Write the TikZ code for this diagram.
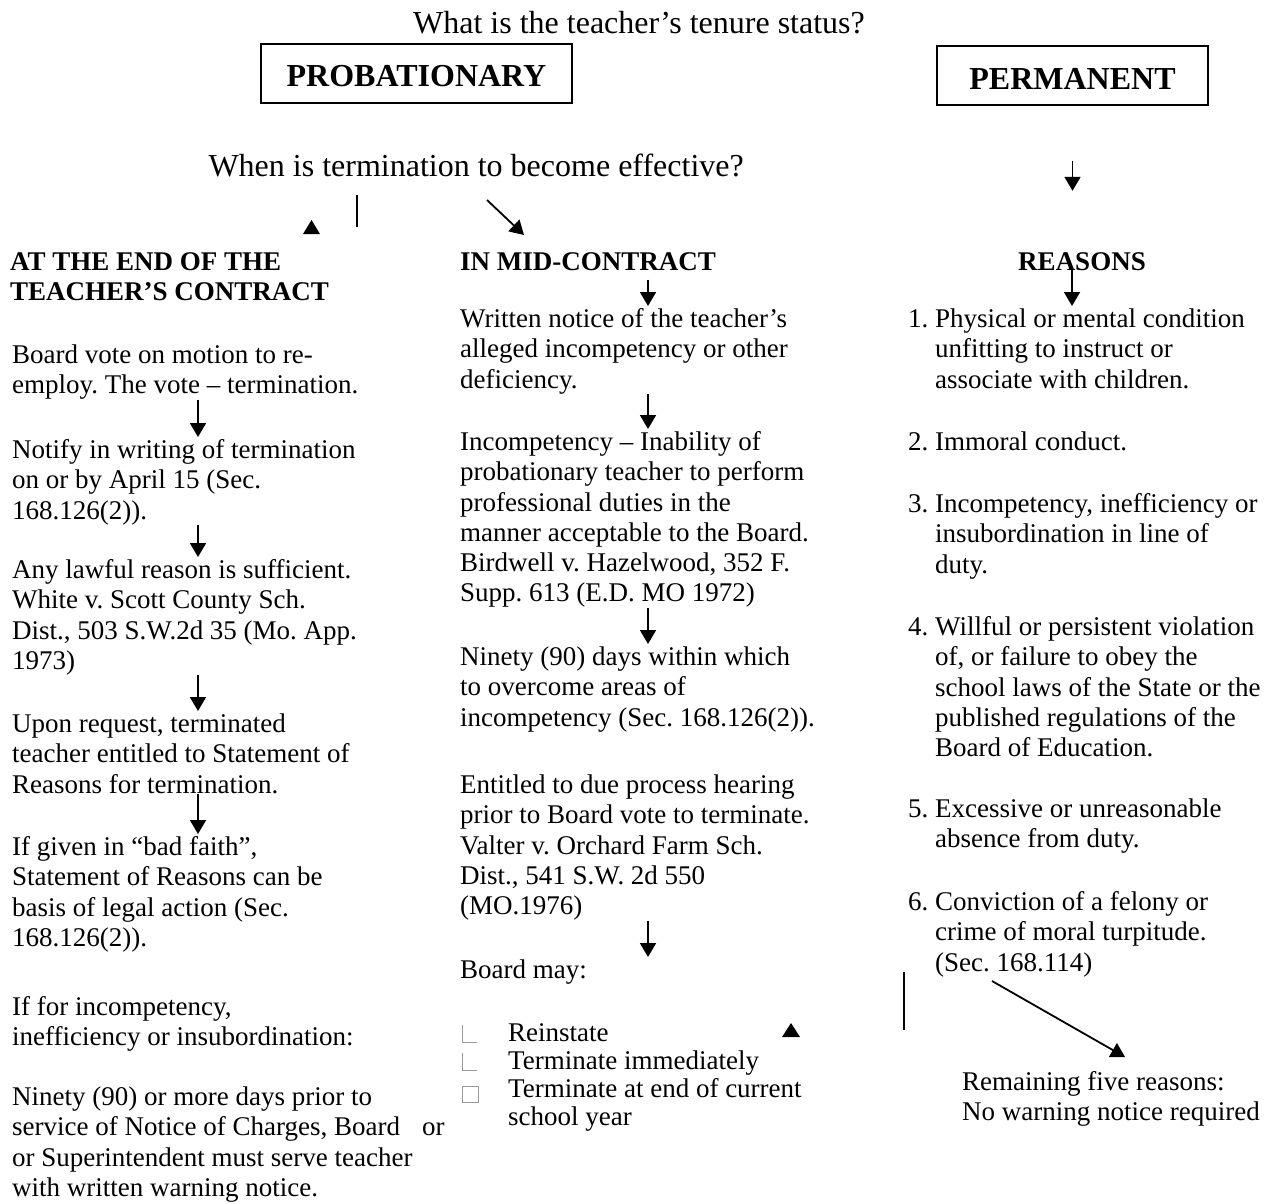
\documentclass[tikz,border=0pt]{standalone}
\usepackage{fontspec}
\setmainfont{Liberation Serif}
\usetikzlibrary{arrows.meta, positioning}

\newcommand{\bodysize}{\fontsize{27}{30.3}\selectfont}
\newcommand{\headsize}{\fontsize{32}{36}\selectfont}
\newcommand{\boxsize}{\fontsize{32}{38}\selectfont\bfseries}

\begin{document}
\frenchspacing
\begin{tikzpicture}[x=1pt, y=-1pt,
    %defining some styles
    txt/.style={anchor=north west, inner sep=0pt, align=left, font=\bodysize},
    headtxt/.style={txt, font=\bodysize\bfseries},
    status/.style={draw, line width=1.6pt, minimum width=#1, minimum height=59pt, inner sep=0pt, text height=27pt, font=\boxsize},
    arr/.style={line width=1.8pt, -{Triangle[length=14pt, width=16pt]}},
    stub/.style={line width=1.8pt},
    bul/.style={draw=black!40, line width=0.8pt},
    ]
    \useasboundingbox (0,0) rectangle (1265,1203);

    % top
    \node (tenure) at (639,33) [anchor=base, font=\headsize] {What is the teacher’s tenure status?};
    \node (prob) at (416.5,73.5) [status=311pt] {PROBATIONARY};
    \node (perm) at (1072.5,75.5) [status=271pt] {PERMANENT};
    \node (when) at (205,176) [anchor=base west, font=\headsize] {When is termination to become effective?};

    % end of contract
    \node (endhead) at (10,249) [headtxt] {\strut AT THE END OF THE\\TEACHER’S CONTRACT};
    \node (vote) at (12,342) [txt] {\strut Board vote on motion to re-\\employ. The vote – termination.};
    \node (notify) at (12,437) [txt] {\strut Notify in writing of termination\\on or by April 15 (Sec.\\168.126(2)).};
    \node (lawful) at (12,557) [txt] {\strut Any lawful reason is sufficient.\\White v. Scott County Sch.\\Dist., 503 S.W.2d 35 (Mo. App.\\1973)};
    \node (request) at (12,711) [txt] {\strut Upon request, terminated\\teacher entitled to Statement of\\Reasons for termination.};
    \node (faith) at (12,834) [txt] {\strut If given in “bad faith”,\\Statement of Reasons can be\\basis of legal action (Sec.\\168.126(2)).};
    \node (ifincomp) at (12,994) [txt] {\strut If for incompetency,\\inefficiency or insubordination:};
    \node (warning) at (12,1084) [txt] {\strut Ninety (90) or more days prior to\\\makebox[410pt][l]{service of Notice of Charges, Board}or\\or Superintendent must serve teacher\\with written warning notice.};

    % mid-contract
    \node (midhead) at (460,249) [headtxt] {\strut IN MID-CONTRACT};
    \node (written) at (460,306) [txt] {\strut Written notice of the teacher’s\\alleged incompetency or other\\deficiency.};
    \node (incomp) at (460,429) [txt] {\strut Incompetency – Inability of\\probationary teacher to perform\\professional duties in the\\manner acceptable to the Board.\\Birdwell v. Hazelwood, 352 F.\\Supp. 613 (E.D. MO 1972)};
    \node (ninety) at (460,644) [txt] {\strut Ninety (90) days within which\\to overcome areas of\\incompetency (Sec. 168.126(2)).};
    \node (entitled) at (460,772) [txt] {\strut Entitled to due process hearing\\prior to Board vote to terminate.\\Valter v. Orchard Farm Sch.\\Dist., 541 S.W. 2d 550\\(MO.1976)};
    \node (boardmay) at (460,957) [txt] {\strut Board may:};
    \node (opts) at (508,1022) [txt, font=\fontsize{27}{28}\selectfont] {\strut Reinstate\\Terminate immediately\\Terminate at end of current\\school year};

    % permanent
    \node (reasons) at (1082,270) [anchor=base, inner sep=0pt, font=\bodysize\bfseries] {REASONS};
    \node (r1) at (935,306) [txt] {\strut\llap{\makebox[27pt][l]{1.}}Physical or mental condition\\unfitting to instruct or\\associate with children.};
    \node (r2) at (935,429) [txt] {\strut\llap{\makebox[27pt][l]{2.}}Immoral conduct.};
    \node (r3) at (935,491) [txt] {\strut\llap{\makebox[27pt][l]{3.}}Incompetency, inefficiency or\\insubordination in line of\\duty.};
    \node (r4) at (935,614) [txt] {\strut\llap{\makebox[27pt][l]{4.}}Willful or persistent violation\\of, or failure to obey the\\school laws of the State or the\\published regulations of the\\Board of Education.};
    \node (r5) at (935,796) [txt] {\strut\llap{\makebox[27pt][l]{5.}}Excessive or unreasonable\\absence from duty.};
    \node (r6) at (935,889) [txt] {\strut\llap{\makebox[27pt][l]{6.}}Conviction of a felony or\\crime of moral turpitude.\\(Sec. 168.114)};
    \node (remain) at (962,1069) [txt] {\strut Remaining five reasons:\\No warning notice required};

    % arrow columns
    \coordinate (lcol) at (198,0);
    \coordinate (mcol) at (648,0);
    \coordinate (rcol) at (1072,0);

    \draw[arr] (vote.south -| lcol) -- (notify.north -| lcol);
    \draw[arr] (notify.south -| lcol) -- (lawful.north -| lcol);
    \draw[arr] (lawful.south -| lcol) -- (request.north -| lcol);
    \draw[arr] (request.south -| lcol) -- (faith.north -| lcol);

    \draw[arr] (midhead.south -| mcol) -- (written.north -| mcol);
    \draw[arr] (written.south -| mcol) -- (incomp.north -| mcol);
    \draw[arr] (incomp.south -| mcol) -- (ninety.north -| mcol);
    \draw[arr] (entitled.south -| mcol) -- (boardmay.north -| mcol);

    \draw[arr] (perm.south) ++(0,55) -- ++(0,30);
    \draw[arr] (reasons.south -| rcol) -- (r1.north -| rcol);

    % loose pieces
    \coordinate (dA) at (487,200);
    \coordinate (dB) at (524,235);
    \draw[arr] (dA) -- (dB);
    \coordinate (eA) at (992,981);
    \coordinate (eB) at (1125,1057);
    \draw[arr] (eA) -- (eB);
    \draw[stub] (357,195) -- (357,227);
    \draw[stub] (904,972) -- (904,1030);
    \fill (303,234) -- (311.5,220) -- (320,234) -- cycle;
    \fill (782,1037) -- (791,1023) -- (800,1037) -- cycle;

    % check marks
    \draw[bul] (462,1025) -- (462,1042) -- (477,1042);
    \draw[bul] (462,1053) -- (462,1070) -- (477,1070);
    \draw[bul] (462,1086) rectangle (478,1102);
\end{tikzpicture}
\end{document}
